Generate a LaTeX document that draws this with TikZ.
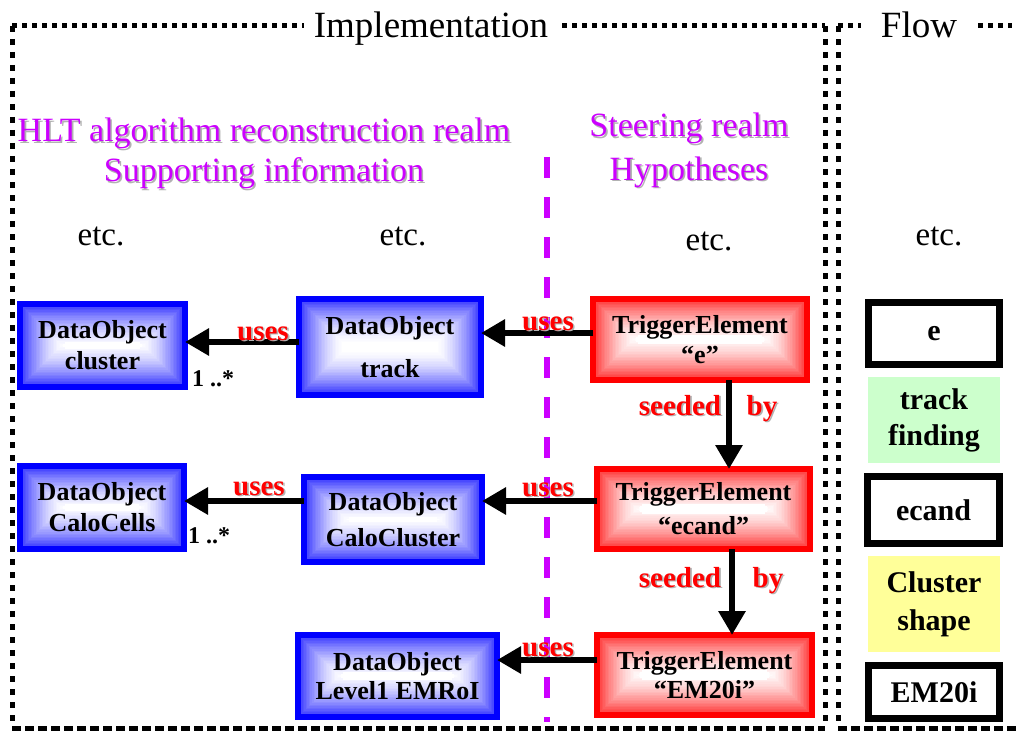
\documentclass[tikz,border=0pt]{standalone}
\usepackage{fontspec}
\setmainfont{Liberation Serif}
\usetikzlibrary{arrows.meta,calc}
\definecolor{mag}{RGB}{204,0,255}
\definecolor{tgreen}{RGB}{204,255,204}
\definecolor{tyellow}{RGB}{255,255,153}
% text with a soft grey drop shadow
\newcommand\shd[2]{\leavevmode\rlap{\kern1.6pt\raisebox{-1.6pt}{\textcolor{black!30}{#2}}}\textcolor{#1}{#2}}
\begin{document}
\begin{tikzpicture}[x=1pt,y=-1pt,
  gradbox/.style={draw=#1, line width=6pt, text=black, align=center,
    inner sep=0pt, outer sep=0pt,
    path picture={\foreach \i in {0,...,29}{
        \pgfmathtruncatemacro\pc{80*(1-\i/29)^1.6}
        \fill[#1!\pc!white]
          ([shift={(\i*1.55pt,-\i*1.55pt)}]path picture bounding box.north west)
          rectangle
          ([shift={(-\i*1.55pt,\i*1.55pt)}]path picture bounding box.south east);}}},
  bbox/.style={gradbox=blue},
  rbox/.style={gradbox=red},
  flowbox/.style={draw=black, line width=7pt, fill=white, inner sep=0pt, outer sep=0pt,
    align=center, font=\bfseries\fontsize{30}{36}\selectfont},
  flowstep/.style={inner sep=0pt, outer sep=0pt, align=center,
    font=\bfseries\fontsize{30}{36}\selectfont},
  arr/.style={line width=6pt, -{Triangle[length=24pt,width=26pt]}},
  frame/.style={line width=5pt, line cap=butt},
  title/.style={fill=white, inner ysep=4pt, anchor=base, font=\fontsize{37}{40}\selectfont},
  head/.style={inner sep=0pt, anchor=base, font=\fontsize{34}{40}\selectfont},
  etc/.style={inner sep=0pt, anchor=base, font=\fontsize{33}{36}\selectfont},
  lbl/.style={inner sep=0pt, anchor=base, font=\bfseries\fontsize{29}{32}\selectfont},
  mult/.style={inner sep=0pt, anchor=base west, font=\bfseries\fontsize{24}{28}\selectfont},
]
\useasboundingbox (0,0) rectangle (1016,730);

% dotted frames
\draw[frame, dash pattern=on 5pt off 5pt] (12,26) -- (825,26);
\draw[frame, dash pattern=on 6pt off 7pt] (12,26) -- (12,728);
\draw[frame, dash pattern=on 6pt off 7pt] (825,26) -- (825,728);
\draw[frame, dash pattern=on 9pt off 4pt] (12,728) -- (825,728);
\draw[frame, dash pattern=on 5pt off 5pt] (838,26) -- (1012,26);
\draw[frame, dash pattern=on 6pt off 7pt] (838,26) -- (838,728);
\draw[frame, dash pattern=on 9pt off 4pt] (838,728) -- (1016,728);
\node[title, inner xsep=10pt] (impl) at (431,38) {Implementation};
\node[title, inner xsep=20pt] (flow) at (919,38) {Flow};

% realm headings
\node[head] (hlt) at (264,142) {\shd{mag}{HLT algorithm reconstruction realm}};
\node[head] (sup) at (264,182) {\shd{mag}{Supporting information}};
\node[head] (ste) at (689,137) {\shd{mag}{Steering realm}};
\node[head] (hyp) at (689,180) {\shd{mag}{Hypotheses}};

\node[etc] (etc1) at (101,245) {etc.};
\node[etc] (etc2) at (403,245) {etc.};
\node[etc] (etc3) at (709,250) {etc.};
\node[etc] (etc4) at (939,245) {etc.};

% border between the two realms
\draw[mag, line width=6pt, dash pattern=on 21pt off 19pt] (547,157) -- (547,722);

% data objects
\node[bbox, minimum width=165, minimum height=83, font=\bfseries\fontsize{26}{31}\selectfont]
  (clu) at (102.5,345.5) {DataObject\\cluster};
\node[bbox, minimum width=182, minimum height=96, font=\bfseries\fontsize{26}{43}\selectfont]
  (trk) at (390,347) {DataObject\\track};
\node[bbox, minimum width=164, minimum height=83, font=\bfseries\fontsize{26}{31}\selectfont]
  (cells) at (102,507.5) {DataObject\\CaloCells};
\node[bbox, minimum width=178, minimum height=85, font=\bfseries\fontsize{26}{36}\selectfont]
  (ccl) at (393,519.5) {DataObject\\CaloCluster};
\node[bbox, minimum width=199, minimum height=82, font=\bfseries\fontsize{26}{29}\selectfont]
  (roi) at (397.5,676) {DataObject\\Level1 EMRoI};

% trigger elements
\node[rbox, minimum width=214, minimum height=81, font=\bfseries\fontsize{26}{30}\selectfont]
  (te1) at (700,339.5) {TriggerElement\\“e”};
\node[rbox, minimum width=213, minimum height=80, font=\bfseries\fontsize{26}{34}\selectfont]
  (te2) at (703.5,509) {TriggerElement\\“ecand”};
\node[rbox, minimum width=215, minimum height=80, font=\bfseries\fontsize{26}{29}\selectfont]
  (te3) at (704.5,675) {TriggerElement\\“EM20i”};

% flow column
\node[flowbox, minimum width=131, minimum height=62] (fe) at (934,333.5) {e};
\node[flowstep, fill=tgreen, minimum width=132, minimum height=86] (ftf) at (934,420) {track\\finding};
\node[flowbox, minimum width=132, minimum height=67] (fec) at (933.5,510) {ecand};
\node[flowstep, fill=tyellow, minimum width=132, minimum height=96, font=\bfseries\fontsize{30}{38}\selectfont]
  (fcs) at (934,604) {Cluster\\shape};
\node[flowbox, minimum width=131, minimum height=53] (fem) at (934,692) {EM20i};

% "uses" connectors
\coordinate (a1) at ([yshift=6.5pt]te1.west);
\draw[arr] (a1) -- (a1 -| trk.east);
\coordinate (a2) at ([yshift=5pt]trk.west);
\draw[arr] (a2) -- (a2 -| clu.east);
\coordinate (a3) at ([yshift=8pt]te2.west);
\draw[arr] (a3) -- (a3 -| ccl.east);
\coordinate (a4) at ([yshift=18.5pt]ccl.west);
\draw[arr] (a4) -- (a4 -| cells.east);
\coordinate (a5) at ([yshift=15pt]te3.west);
\draw[arr] (a5) -- (a5 -| roi.east);

% "seeded by" connectors
\coordinate (s1) at ([xshift=29pt]te1.south);
\draw[arr] (s1) -- (s1 |- te2.north);
\coordinate (s2) at ([xshift=28.5pt]te2.south);
\draw[arr] (s2) -- (s2 |- te3.north);

% connector labels
\node[lbl] (u1) at (548,330) {\shd{red}{uses}};
\node[lbl] (u2) at (263,340) {\shd{red}{uses}};
\node[lbl] (u3) at (548,496) {\shd{red}{uses}};
\node[lbl] (u4) at (259,495) {\shd{red}{uses}};
\node[lbl] (u5) at (548,656) {\shd{red}{uses}};
\node[lbl] (sd1) at (680,415) {\shd{red}{seeded}};
\node[lbl] (by1) at (762,415) {\shd{red}{by}};
\node[lbl] (sd2) at (680,587) {\shd{red}{seeded}};
\node[lbl] (by2) at (768,587) {\shd{red}{by}};
\node[mult] (m1) at (192,386) {1 ..*};
\node[mult] (m2) at (188,543) {1 ..*};
\end{tikzpicture}
\end{document}
